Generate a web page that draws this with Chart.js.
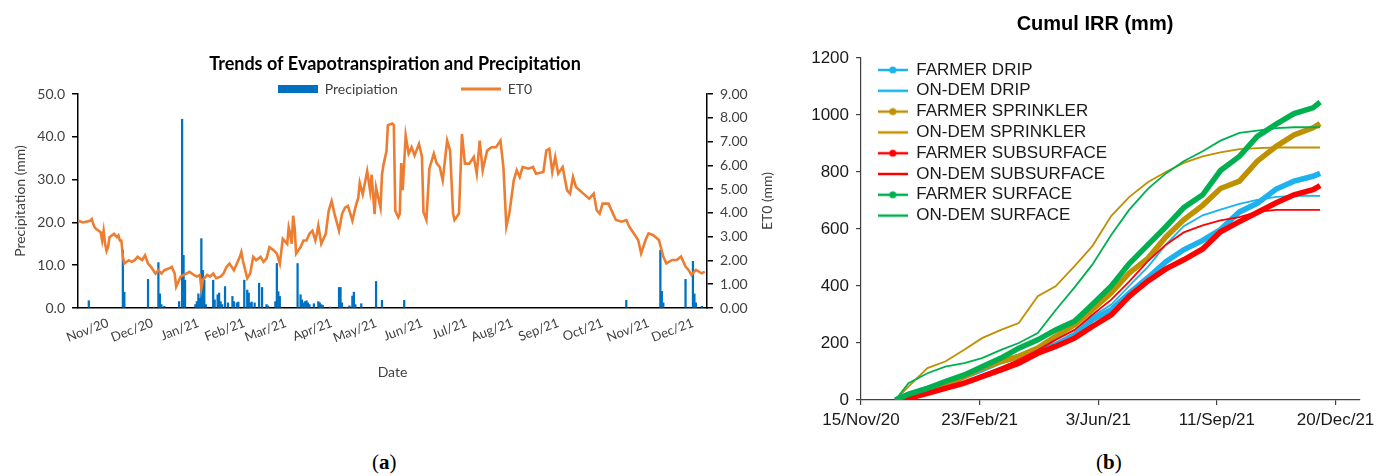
<!DOCTYPE html>
<html lang="en">
<head>
    <meta charset="UTF-8">
    <title>ET0, Precipitation and Cumulative Irrigation</title>
    <script src="https://cdn.jsdelivr.net/npm/chart.js"></script>
    <style>
        body {
            margin: 0;
            width: 1380px;
            height: 476px;
            background: #fff;
            position: relative;
            overflow: hidden;
        }

        canvas {
            position: absolute;
        }

        #etChart {
            left: 0;
            top: 40px;
        }

        #irrChart {
            left: 790px;
            top: 0;
        }

        .panel-label {
            position: absolute;
            top: 450px;
            font-family: "Liberation Serif", serif;
            font-size: 21px;
            color: #000;
        }
    </style>
</head>
<body>
    <canvas id="etChart" width="790" height="350"></canvas>
    <canvas id="irrChart" width="590" height="440"></canvas>
    <div class="panel-label" style="left: 372px;">(<b>a</b>)</div>
    <div class="panel-label" style="left: 1096px;">(<b>b</b>)</div>

    <script>
        // ---- Panel (a): days counted from 1 Nov 2020 ----
        const monthDays = [0, 30, 61, 92, 120, 151, 181, 212, 242, 273, 304, 334, 365, 395];
        const monthLabels = ["Nov/20", "Dec/20", "Jan/21", "Feb/21", "Mar/21", "Apr/21", "May/21",
            "Jun/21", "Jul/21", "Aug/21", "Sep/21", "Oct/21", "Nov/21", "Dec/21"];

        const precipDays = [-13, 10, 11, 27, 31, 34, 35, 36, 38, 48, 50, 51, 52, 59, 60, 61, 62, 63, 64, 65, 66,
            71, 72, 74, 75, 76, 77, 79, 81, 84, 85, 87, 88, 92, 94, 95, 96, 97, 99, 102, 104, 107, 108,
            113, 114, 115, 116, 128, 130, 131, 132, 133, 134, 135, 136, 139, 142, 143, 144, 145, 150,
            156, 157, 158, 161, 163, 165, 166, 167, 171, 181, 185, 200, 350, 373, 374, 375, 390, 393,
            395, 396, 397, 401];
        const precipMm = [1.7, 13.5, 3.7, 6.7, 0.2, 10.6, 3.3, 0.8, 0.4, 1.5, 44.1, 12.3, 6.5, 0.8, 1.5, 3.3, 2.3, 16.2, 8.8, 6.5, 0.8,
            6.5, 1.9, 3.1, 3.5, 1.5, 0.8, 5.0, 1.2, 2.7, 1.5, 1.2, 1.4, 6.5, 4.2, 3.5, 1.2, 1.4, 1.2, 5.8, 4.8, 0.8, 0.5,
            1.5, 10.4, 3.8, 2.7, 10.4, 3.1, 1.9, 1.2, 1.5, 1.7, 1.2, 0.8, 1.0, 1.5, 1.2, 0.8, 0.6, 0.2,
            4.8, 4.8, 1.2, 0.2, 0.5, 2.8, 3.7, 0.8, 1.0, 6.2, 1.8, 1.8, 1.8, 13.5, 3.9, 1.2, 6.7, 0.2,
            10.9, 3.3, 1.2, 0.4];

        const et0Days = [-20, -17, -12, -11, -10, -9, -8, -5, -4, -3, -2, -1, 0, 1, 4, 6, 7, 8, 9, 10, 11, 14, 16, 18, 20,
            23, 25, 27, 29, 32, 34, 36, 38, 41, 43, 45, 46, 49, 51, 53, 55, 58, 60, 62, 63, 64, 67, 69, 71, 73,
            76, 78, 80, 82, 85, 87, 89, 90, 91, 94, 96, 98, 100, 103, 105, 107, 109, 112, 114, 116, 118, 121,
            122, 123, 124, 125, 126, 127, 130, 132, 134, 136, 138, 140, 141, 142, 144, 147, 149, 151, 153,
            156, 158, 160, 162, 165, 167, 169, 170, 172, 175, 177, 178, 180, 181, 184, 185, 186, 188, 189,
            192, 193, 194, 196, 197, 198, 199, 201, 203, 205, 207, 210, 212, 213, 215, 217, 220, 222, 224,
            226, 229, 231, 233, 234, 237, 239, 241, 244, 247, 249, 251, 253, 256, 259, 262, 265, 267, 269,
            271, 274, 276, 278, 280, 284, 287, 289, 294, 296, 298, 300, 302, 304, 307, 310, 312, 314, 316,
            321, 325, 328, 330, 332, 334, 338, 341, 343, 347, 350, 352, 355, 358, 360, 363, 365, 368, 372,
            375, 377, 381, 384, 387, 390, 392, 394, 397, 401, 403];
        const et0Mm = [3.67, 3.60, 3.67, 3.74, 3.53, 3.39, 3.32, 3.19, 2.84, 3.25, 2.70, 2.40, 2.56, 2.98, 3.12, 2.98, 3.05, 2.84, 2.84, 2.15, 1.87, 2.01, 1.94, 2.01, 2.15,
            2.01, 2.22, 1.87, 1.73, 1.45, 1.59, 1.45, 1.59, 1.66, 1.73, 1.45, 0.90, 1.32, 1.39, 1.45, 1.52, 1.39, 1.32, 1.39, 0.83, 1.18, 1.39, 1.32, 1.45, 1.25,
            1.32, 1.45, 1.73, 1.87, 1.59, 1.87, 2.15, 2.35, 2.01, 1.25, 1.45, 2.15, 2.01, 2.15, 1.94, 2.08, 2.56, 2.42, 2.29, 1.87, 2.91, 2.70,
            3.39, 3.12, 2.70, 3.88, 3.39, 2.29, 2.56, 2.84, 2.84, 3.12, 3.25, 2.84, 3.12, 3.46, 2.70, 3.12, 4.09, 4.50, 3.95,
            3.25, 3.95, 4.22, 4.29, 3.67, 4.22, 4.64, 5.26, 4.78, 5.75, 4.92, 5.61, 3.95, 5.06, 4.22, 5.61, 6.02, 6.58, 7.69,
            7.76, 7.69, 4.09, 3.81, 3.95, 6.10, 4.95, 7.25, 6.49, 6.76, 6.42, 6.90, 6.35, 4.04, 3.70, 5.86, 6.49, 6.07, 5.93,
            5.37, 7.04, 6.62, 3.97, 3.70, 3.97, 7.32, 6.07, 6.07, 6.35, 5.65, 7.04, 5.79, 6.62, 6.76, 6.76, 7.04, 5.93, 3.42,
            3.97, 5.37, 5.79, 5.51, 5.93, 5.86, 5.93, 5.65, 5.72, 6.62, 6.69, 5.72, 6.35, 5.65, 5.93, 4.95, 4.81, 5.51, 5.09,
            4.81, 4.60, 4.81, 4.11, 3.97, 4.39, 4.39, 3.97, 3.70, 3.63, 3.70, 3.42, 3.14, 2.86, 2.30, 2.86, 3.14, 3.07, 2.86,
            2.16, 1.88, 2.02, 2.02, 2.16, 1.74, 1.60, 1.39, 1.60, 1.46, 1.53];

        // ---- Panel (b): days counted from 15 Nov 2020 ----
        const irrTickDays = [0, 100, 200, 300, 400];
        const irrTickLabels = ["15/Nov/20", "23/Feb/21", "3/Jun/21", "11/Sep/21", "20/Dec/21"];
        const irrDays = [29, 40, 56, 71, 87, 102, 118, 133, 149, 164, 180, 195, 211, 226, 242, 257, 272, 288, 303, 319, 334, 350, 365, 381, 387];

        const farmerDrip = [0, 20, 41, 59, 82, 106, 135, 153, 176, 194, 229, 282, 317, 374, 430, 485, 527, 560, 598, 660, 690, 740, 768, 785, 795];
        const onDemDrip = [0, 20, 40, 59, 80, 106, 130, 153, 176, 200, 235, 293, 335, 400, 468, 545, 610, 648, 668, 688, 702, 713, 716, 716, 716];
        const farmerSprinkler = [0, 15, 29, 47, 82, 112, 135, 153, 182, 223, 264, 317, 376, 445, 498, 572, 632, 683, 742, 768, 838, 890, 930, 955, 970];
        const onDemSprinkler = [0, 47, 112, 135, 176, 217, 246, 270, 364, 399, 470, 540, 646, 712, 765, 800, 832, 855, 869, 880, 884, 886, 886, 886, 886];
        const farmerSubsurface = [0, 6, 23, 41, 59, 82, 106, 129, 164, 188, 217, 258, 299, 364, 418, 460, 492, 530, 590, 626, 658, 692, 720, 738, 752];
        const onDemSubsurface = [0, 8, 25, 41, 62, 88, 115, 141, 175, 211, 246, 299, 352, 415, 488, 545, 588, 613, 630, 642, 660, 667, 667, 667, 667];
        const farmerSurface = [0, 20, 41, 65, 88, 117, 147, 182, 211, 246, 276, 335, 400, 478, 545, 608, 675, 720, 805, 855, 925, 968, 1005, 1025, 1045];
        const onDemSurface = [0, 59, 94, 117, 129, 147, 176, 200, 235, 315, 395, 475, 580, 667, 742, 795, 838, 873, 910, 937, 945, 954, 957, 957, 957];

        const irrSeries = [
            { label: "FARMER DRIP", values: farmerDrip, color: "#1DB2EE", farmer: true },
            { label: "ON-DEM DRIP", values: onDemDrip, color: "#1DB2EE", farmer: false },
            { label: "FARMER SPRINKLER", values: farmerSprinkler, color: "#BF9000", farmer: true },
            { label: "ON-DEM SPRINKLER", values: onDemSprinkler, color: "#BF9000", farmer: false },
            { label: "FARMER SUBSURFACE", values: farmerSubsurface, color: "#FF0000", farmer: true },
            { label: "ON-DEM SUBSURFACE", values: onDemSubsurface, color: "#FF0000", farmer: false },
            { label: "FARMER SURFACE", values: farmerSurface, color: "#00B050", farmer: true },
            { label: "ON-DEM SURFACE", values: onDemSurface, color: "#00B050", farmer: false },
        ];

        const pairs = (xs, ys) => xs.map((x, i) => ({ x: x, y: ys[i] }));

        // small canvases used as legend symbols
        function makeIcon(w, h, draw) {
            const c = document.createElement("canvas");
            c.width = w;
            c.height = h;
            draw(c.getContext("2d"));
            return c;
        }

        function lineIcon(color, withDot) {
            return makeIcon(30, 10, ctx => {
                ctx.strokeStyle = color;
                ctx.lineWidth = 2.5;
                ctx.beginPath();
                ctx.moveTo(0, 5);
                ctx.lineTo(30, 5);
                ctx.stroke();
                if (withDot) {
                    ctx.fillStyle = color;
                    ctx.beginPath();
                    ctx.arc(15, 5, 3.5, 0, Math.PI * 2);
                    ctx.fill();
                }
            });
        }

        // keep legends where they sit in the original figure
        const placeLegend = {
            id: "placeLegend",
            beforeInit(chart, args, opts) {
                if (opts.height === undefined) return;
                const fit = chart.legend.fit;
                chart.legend.fit = function () {
                    fit.call(this);
                    this.height = opts.height;
                };
            },
            beforeDraw(chart, args, opts) {
                const lg = chart.legend;
                if (opts.left !== undefined) lg.left = opts.left;
                if (opts.right !== undefined) lg.right = opts.right;
                if (opts.top !== undefined) lg.top = opts.top;
                if (opts.bottom !== undefined) lg.bottom = opts.bottom;
                // let the left tick labels run past the narrow axis box
                if (opts.freeY && chart.scales.y) chart.scales.y.left = 0;
            }
        };

        // right axis title reads bottom-to-top like the original
        const rightAxisTitle = {
            id: "rightAxisTitle",
            afterDraw(chart) {
                const ctx = chart.ctx;
                const area = chart.chartArea;
                ctx.save();
                ctx.translate(767, (area.top + area.bottom) / 2);
                ctx.rotate(-Math.PI / 2);
                ctx.font = "14px Lato";
                ctx.fillStyle = "#404040";
                ctx.textAlign = "center";
                ctx.textBaseline = "middle";
                ctx.fillText("ET0 (mm)", 0, 0);
                ctx.restore();
            }
        };

        const latoTick = { family: "Lato", size: 14 };
        const precipIcon = makeIcon(40, 8, ctx => {
            ctx.fillStyle = "#0070C0";
            ctx.fillRect(0, 0, 40, 8);
        });
        const etIcon = makeIcon(40, 10, ctx => {
            ctx.strokeStyle = "#ED7D31";
            ctx.lineWidth = 3;
            ctx.beginPath();
            ctx.moveTo(0, 5);
            ctx.lineTo(40, 5);
            ctx.stroke();
        });

        new Chart(document.getElementById("etChart"), {
            type: "bar",
            data: {
                datasets: [
                    {
                        type: "bar",
                        label: "Precipiation",
                        data: pairs(precipDays, precipMm),
                        backgroundColor: "#0070C0",
                        barThickness: 1.6,
                        yAxisID: "y",
                        order: 1,
                    },
                    {
                        type: "line",
                        label: "ET0",
                        data: pairs(et0Days, et0Mm),
                        borderColor: "#ED7D31",
                        borderWidth: 2.6,
                        pointRadius: 0,
                        tension: 0,
                        yAxisID: "y1",
                        order: 0,
                    },
                ],
            },
            options: {
                responsive: false,
                animation: false,
                layout: { padding: 0 },
                plugins: {
                    title: {
                        display: true,
                        text: "Trends of Evapotranspiration and Precipitation",
                        font: { family: "Lato", size: 18, weight: "bold" },
                        color: "#000",
                        padding: { top: 13, bottom: 0 },
                    },
                    legend: {
                        labels: {
                            usePointStyle: true,
                            pointStyleWidth: 40,
                            padding: 63,
                            font: latoTick,
                            generateLabels: () => [
                                { text: "Precipiation", pointStyle: precipIcon, fontColor: "#404040", lineWidth: 0, datasetIndex: 0 },
                                { text: "ET0", pointStyle: etIcon, fontColor: "#404040", lineWidth: 0, datasetIndex: 1 },
                            ],
                        },
                    },
                    placeLegend: { height: 19.4, top: -21, bottom: 64, left: 10, right: 800 },
                    tooltip: { enabled: false },
                },
                scales: {
                    x: {
                        type: "linear",
                        min: -20.3,
                        max: 404.5,
                        offset: false,
                        afterBuildTicks: scale => {
                            scale.ticks = monthDays.map(v => ({ value: v }));
                        },
                        afterFit: scale => {
                            scale.height = 82;
                        },
                        ticks: {
                            autoSkip: false,
                            minRotation: 21,
                            maxRotation: 21,
                            padding: 7,
                            font: { family: "Lato", size: 13 },
                            color: "#404040",
                            callback: (value, index) => monthLabels[index],
                        },
                        grid: { display: false, drawTicks: false },
                        border: { display: true, color: "#000", width: 1.5 },
                        title: {
                            display: true,
                            text: "Date",
                            font: latoTick,
                            color: "#404040",
                            padding: { bottom: 9 },
                        },
                    },
                    y: {
                        position: "left",
                        min: 0,
                        max: 50,
                        afterFit: scale => {
                            scale.width = 78;
                        },
                        ticks: {
                            stepSize: 10,
                            padding: 7,
                            font: latoTick,
                            color: "#404040",
                            callback: v => v.toFixed(1),
                        },
                        grid: { drawOnChartArea: false, tickLength: 6, color: "#000", lineWidth: 1.5 },
                        border: { color: "#000", width: 1.5 },
                        title: {
                            display: true,
                            text: "Precipitation (mm)",
                            font: latoTick,
                            color: "#404040",
                            padding: { top: 12 },
                        },
                    },
                    y1: {
                        position: "right",
                        min: 0,
                        max: 9,
                        afterFit: scale => {
                            scale.width = 83;
                        },
                        ticks: {
                            stepSize: 1,
                            padding: 7,
                            font: latoTick,
                            color: "#404040",
                            callback: v => v.toFixed(2),
                        },
                        grid: { drawOnChartArea: false, tickLength: 6, color: "#000", lineWidth: 1.5 },
                        border: { color: "#000", width: 1.5 },
                    },
                },
            },
            plugins: [placeLegend, rightAxisTitle],
        });

        const arial = { family: "Liberation Sans", size: 17 };

        new Chart(document.getElementById("irrChart"), {
            type: "line",
            data: {
                datasets: irrSeries.map((s, i) => ({
                    label: s.label,
                    data: pairs(irrDays, s.values),
                    borderColor: s.color,
                    backgroundColor: s.color,
                    borderWidth: s.farmer ? 5.5 : 1.8,
                    pointRadius: 0,
                    tension: 0,
                    order: irrSeries.length - i,
                })),
            },
            options: {
                responsive: false,
                animation: false,
                layout: { padding: { left: 35, right: 15, top: 0, bottom: 0 } },
                plugins: {
                    title: {
                        display: true,
                        text: "Cumul IRR (mm)",
                        font: { family: "Liberation Sans", size: 20, weight: "bold" },
                        color: "#000",
                        padding: { top: 12, bottom: 22 },
                    },
                    legend: {
                        position: "chartArea",
                        align: "start",
                        labels: {
                            usePointStyle: true,
                            pointStyleWidth: 30,
                            padding: 3.8,
                            font: arial,
                            generateLabels: () => irrSeries.map((s, i) => ({
                                text: s.label,
                                pointStyle: lineIcon(s.color, s.farmer),
                                fontColor: "#1a1a1a",
                                lineWidth: 0,
                                datasetIndex: i,
                            })),
                        },
                    },
                    placeLegend: { left: 84, top: 57.7, freeY: true },
                    tooltip: { enabled: false },
                },
                scales: {
                    x: {
                        type: "linear",
                        min: 0,
                        max: 420,
                        afterBuildTicks: scale => {
                            scale.ticks = irrTickDays.map(v => ({ value: v }));
                        },
                        afterFit: scale => {
                            scale.height = 40;
                        },
                        ticks: {
                            autoSkip: false,
                            maxRotation: 0,
                            padding: 5,
                            font: arial,
                            color: "#1a1a1a",
                            callback: (value, index) => irrTickLabels[index],
                        },
                        grid: { drawOnChartArea: false, tickLength: 5, color: "#404040", lineWidth: 1.2 },
                        border: { color: "#404040", width: 1.2 },
                    },
                    y: {
                        min: 0,
                        max: 1200,
                        afterFit: scale => {
                            scale.width = 36;
                        },
                        ticks: {
                            stepSize: 200,
                            padding: 7,
                            font: arial,
                            color: "#1a1a1a",
                            callback: v => String(v),
                        },
                        grid: { drawOnChartArea: false, tickLength: 5, color: "#404040", lineWidth: 1.2 },
                        border: { color: "#404040", width: 1.2 },
                    },
                },
            },
            plugins: [placeLegend],
        });
    </script>
</body>
</html>
